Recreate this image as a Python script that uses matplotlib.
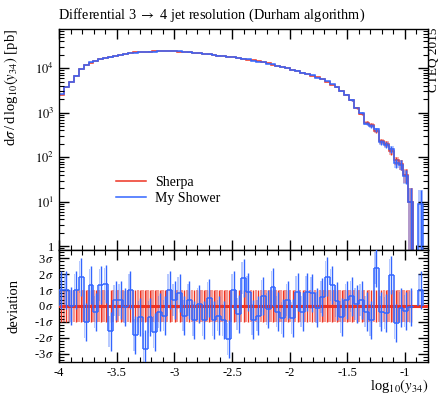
import matplotlib
matplotlib.use("Agg")
import matplotlib.pyplot as plt
import numpy as np
from matplotlib.ticker import MultipleLocator, FixedLocator, FixedFormatter, LogLocator, NullFormatter

plt.rcParams["font.family"] = ["Liberation Serif", "DejaVu Serif"]
plt.rcParams["mathtext.fontset"] = "stix"

# binning in log10(y34)
edges = np.linspace(-4.0, -0.8, 76)

# d sigma / d log10(y34) [pb]
sherpa = [2500, 3700, 5000, 6700, 9500, 11800, 13300, 14700, 15800, 16900,
          17700, 18500, 19500, 21000, 22000, 22600, 23100, 23400, 23700, 23900,
          24100, 24200, 24200, 24000, 23600, 23100, 22600, 22100, 21600, 21000,
          20400, 19800, 19200, 18700, 18200, 17600, 17000, 16300, 15600, 14900,
          14200, 13500, 12800, 12000, 11300, 10600, 10000, 9300, 8700, 8000,
          7400, 6800, 6200, 5600, 5000, 4300, 3700, 3100, 2500, 1900,
          1300, 950, 600, 530, 380, 230, 200, 135, 85, 70,
          40, 10, 0, 0, 0]
myshower = [2600, 3750, 4950, 6800, 9700, 11700, 13500, 14650, 16000, 17100,
            17500, 18600, 19600, 20950, 22200, 22300, 23000, 23000, 23600, 23700,
            24000, 24100, 24400, 24100, 23800, 23000, 22700, 22000, 21650, 20900,
            20500, 19700, 19100, 18600, 17900, 17700, 16900, 16500, 15700, 14800,
            14100, 13600, 12750, 12150, 11250, 10500, 10050, 9200, 8800, 7950,
            7500, 6900, 6150, 5650, 5100, 4400, 3720, 3060, 2520, 1950,
            1310, 980, 570, 500, 420, 215, 190, 150, 75, 68,
            38, 10, 0, 9, 0]
# relative statistical errors
sherpa_rel = [0.01] * 55 + [0.02, 0.02, 0.03, 0.03, 0.04,
                            0.05, 0.06, 0.08, 0.09, 0.10, 0.13, 0.14, 0.18, 0.22, 0.25,
                            0.35, 1.0, 0, 0, 0]
myshower_rel = [0.01] * 55 + [0.02, 0.02, 0.03, 0.03, 0.04,
                              0.05, 0.06, 0.08, 0.09, 0.10, 0.13, 0.14, 0.18, 0.22, 0.25,
                              0.35, 1.0, 0, 1.0, 0]

# deviation of My Shower from Sherpa in units of sigma
deviation = [1.0, 1.0, 0.0, 1.0, 1.8, -1.0, 1.3, -0.4, 1.3, 1.4,
             -1.6, 0.35, 0.4, -0.05, 1.0, -1.8, -0.7, -2.7, -0.7, -1.65,
             -0.4, -0.6, 1.0, 0.4, 0.8, -0.6, 0.4, -0.9, 0.15, -0.9,
             0.5, -0.9, -0.6, -0.9, -2.1, 1.0, -0.5, 1.75, 0.9, -0.85,
             -0.6, 0.65, -0.2, 1.2, -0.35, -0.75, 0.4, -0.75, 0.9, -0.35,
             0.9, 0.8, -0.1, 0.55, 1.85, 1.3, 0.3, -0.7, 0.4, 0.6,
             0.1, 0.4, -0.35, -0.9, 2.4, -0.35, -0.45, 1.95, -1.05, -0.1,
             -0.3, -0.05, np.nan, 1.0, np.nan]
deviation_err = [1.2] * 75

red = "#ee3322"
blue = "#3366ff"
w = edges[1] - edges[0]
centers = 0.5 * (edges[:-1] + edges[1:])

fig = plt.figure(figsize=(4.43, 3.97), dpi=100)
ax = fig.add_axes([0.1332, 0.3703, 0.8330, 0.5567])
rax = fig.add_axes([0.1332, 0.0882, 0.8330, 0.2821], sharex=ax)

for vals, rel, col, lab in [(sherpa, sherpa_rel, red, "Sherpa"),
                            (myshower, myshower_rel, blue, "My Shower")]:
    v = np.array(vals, dtype=float)
    e = v * np.array(rel)
    for i in range(len(v)):
        if v[i] <= 0:
            continue
        lo = max(v[i] - e[i], 1e-3)
        ax.fill_between([edges[i], edges[i + 1]], lo, v[i] + e[i],
                        color=col, alpha=0.35, lw=0)
        if rel[i] > 0.03:
            ax.vlines(centers[i], lo, v[i] + e[i], color=col, lw=1.0)
    vv = np.where(v > 0, v, 1e-3)
    ax.stairs(vv, edges, color=col, lw=1.1, baseline=None, label=lab)

ax.set_yscale("log")
ax.set_xlim(-4.0, -0.8)
ax.set_ylim(0.826, 7.6e4)
ax.yaxis.set_major_locator(FixedLocator([1, 10, 100, 1000, 10000]))
ax.yaxis.set_major_formatter(FixedFormatter(["1", r"$10^{1}$", r"$10^{2}$",
                                             r"$10^{3}$", r"$10^{4}$"]))
ax.yaxis.set_minor_locator(LogLocator(base=10, subs=np.arange(2, 10), numticks=20))
ax.yaxis.set_minor_formatter(NullFormatter())
ax.xaxis.set_major_locator(MultipleLocator(0.5))
ax.xaxis.set_minor_locator(MultipleLocator(0.1))
plt.setp(ax.get_xticklabels(), visible=False)
ax.set_ylabel(r"d$\sigma\,$/$\,$d$\,$log$_{10}(y_{34})$ [pb]", loc="top", fontsize=10.5)
ax.yaxis.set_label_coords(-0.105, 1.0)
ax.set_title(r"Differential 3 $\rightarrow$ 4 jet resolution (Durham algorithm)",
             loc="left", fontsize=10.3, pad=7, x=-0.003)
ax.legend(loc="upper left", bbox_to_anchor=(0.135, 0.365), frameon=False,
          fontsize=10, handlelength=2.2, handletextpad=0.6, labelspacing=0.2,
          borderpad=0)
fig.text(0.979, 0.93, "CTEQ 2015", rotation=90, ha="center", va="top", fontsize=9.5)

# deviation panel
rax.axhline(0, color=red, lw=2.2, zorder=3)
for i in range(72):
    rax.vlines(centers[i], -1, 1, color=red, lw=1.0, zorder=2)
    rax.fill_between([edges[i] - 0.25 * w, edges[i] + 0.25 * w], -1, 1,
                     color=red, alpha=0.5, lw=0, zorder=1)
dev = np.array(deviation)
dev_err = np.array(deviation_err)
for i in range(len(dev)):
    if np.isnan(dev[i]):
        continue
    rax.vlines(centers[i], dev[i] - dev_err[i], dev[i] + dev_err[i], color=blue,
               lw=1.0, zorder=4)
    rax.fill_between([centers[i] - 0.45 * w, centers[i] - 0.15 * w], dev[i] - 1,
                     dev[i] + 1, color=blue, alpha=0.35, lw=0, zorder=2)
    rax.hlines(dev[i], edges[i], edges[i + 1], color=blue, lw=1.1, zorder=5)
    if i > 0 and not np.isnan(dev[i - 1]):
        rax.vlines(edges[i], dev[i - 1], dev[i], color=blue, lw=1.1, zorder=5)
    else:
        rax.vlines(edges[i], 0, dev[i], color=blue, lw=1.1, zorder=5)
    if i == len(dev) - 1 or np.isnan(dev[i + 1]):
        rax.vlines(edges[i + 1], 0, dev[i], color=blue, lw=1.1, zorder=5)

rax.set_ylim(-3.52, 3.52)
rax.yaxis.set_major_locator(FixedLocator([-3, -2, -1, 0, 1, 2, 3]))
rax.yaxis.set_major_formatter(FixedFormatter([r"-3$\,\sigma$", r"-2$\,\sigma$",
                                              r"-1$\,\sigma$", r"0$\,\sigma$",
                                              r"1$\,\sigma$", r"2$\,\sigma$",
                                              r"3$\,\sigma$"]))
rax.yaxis.set_minor_locator(MultipleLocator(0.2))
rax.set_xticks([-4, -3.5, -3, -2.5, -2, -1.5, -1])
rax.set_xticklabels(["-4", "-3.5", "-3", "-2.5", "-2", "-1.5", "-1"])
rax.set_ylabel("deviation", fontsize=10.5)
rax.yaxis.set_label_coords(-0.105, 0.5)
rax.set_xlabel(r"log$_{10}(y_{34})$", loc="right", fontsize=10.5, labelpad=-1)

for a in (ax, rax):
    a.tick_params(which="both", direction="in", top=True, right=True, labelsize=9)
    a.tick_params(which="major", length=7, width=1.0)
    a.tick_params(which="minor", length=3.5, width=0.8)
    for s in a.spines.values():
        s.set_linewidth(1.0)

fig.savefig("out.png", dpi=100)
